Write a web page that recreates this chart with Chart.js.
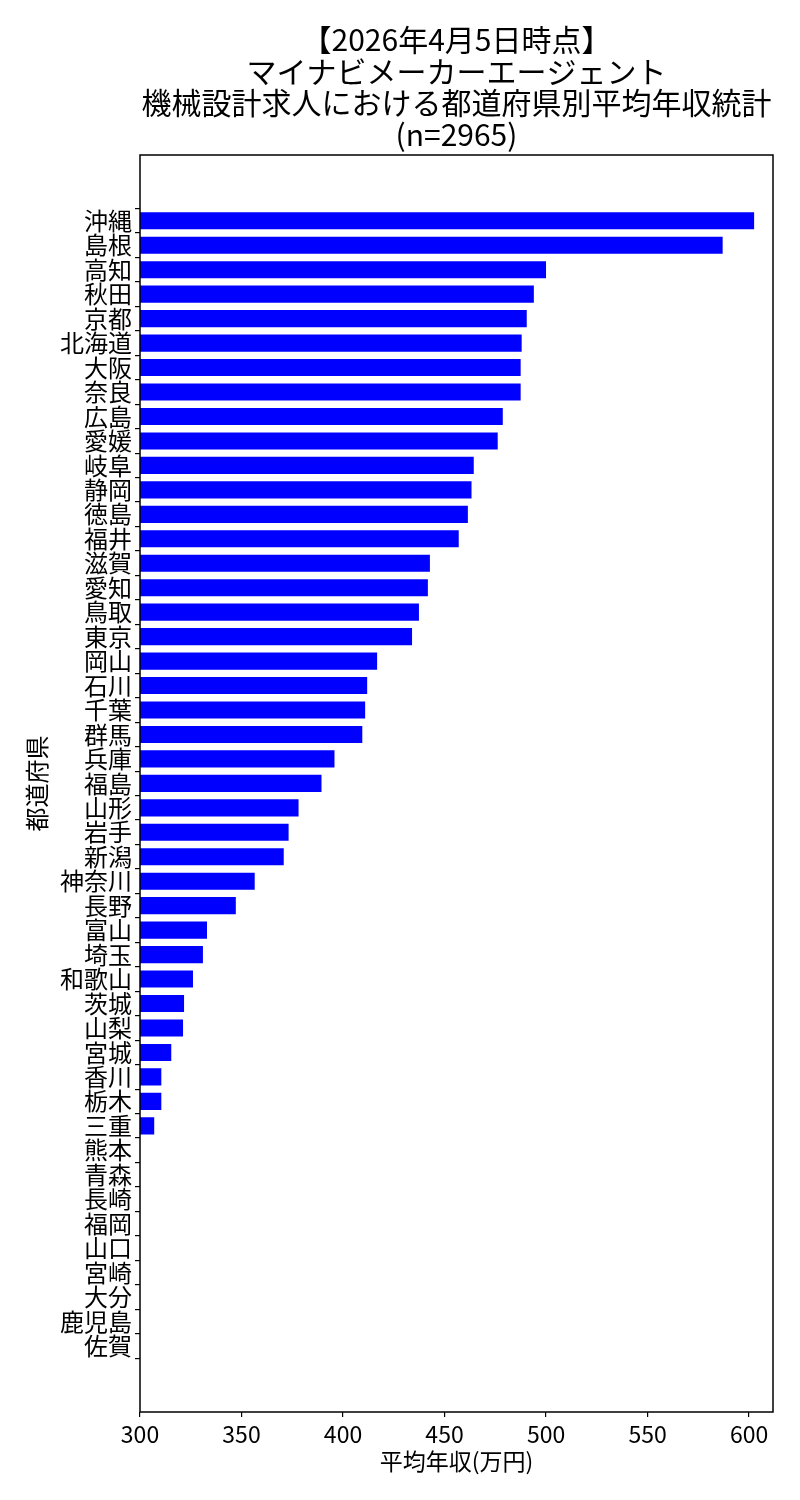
<!DOCTYPE html>
<html>
<head>
<meta charset="utf-8">
<script src="https://cdn.jsdelivr.net/npm/chart.js@4"></script>
<style>
  body { margin: 0; background: #fff; }
  #wrap { width: 800px; height: 1500px; }
</style>
</head>
<body>
<div id="wrap"><canvas id="salaryChart"></canvas></div>
<script>
// data (万円), top to bottom
const prefectures = ["沖縄", "島根", "高知", "秋田", "京都", "北海道", "大阪", "奈良", "広島", "愛媛",
    "岐阜", "静岡", "徳島", "福井", "滋賀", "愛知", "鳥取", "東京", "岡山", "石川",
    "千葉", "群馬", "兵庫", "福島", "山形", "岩手", "新潟", "神奈川", "長野", "富山",
    "埼玉", "和歌山", "茨城", "山梨", "宮城", "香川", "栃木", "三重", "熊本", "青森",
    "長崎", "福岡", "山口", "宮崎", "大分", "鹿児島", "佐賀"];
const avgSalary = [602.5, 587, 500, 494, 490.5, 488, 487.5, 487.5, 478.7, 476.2,
    464.4, 463.3, 461.5, 457, 442.8, 441.8, 437.4, 434, 416.8, 411.9,
    410.9, 409.5, 395.8, 389.4, 378.1, 373.2, 370.8, 356.5, 347.2, 333,
    331, 326.1, 321.7, 321.2, 315.4, 310.5, 310.5, 307, null, null,
    null, null, null, null, null, null, null];
const xTicks = [300, 350, 400, 450, 500, 550, 600];

const titleLines = ["【2026年4月5日時点】", "マイナビメーカーエージェント", "機械設計求人における都道府県別平均年収統計", "(n=2965)"];

const FONT = "'Noto Sans CJK JP', 'Noto Sans', sans-serif";

const points = avgSalary.map((v, i) => ({ x: v, y: i }));

// box around the plot area like matplotlib
const framePlugin = {
    id: "frame",
    afterDraw(chart) {
        const { ctx, chartArea: a } = chart;
        ctx.save();
        ctx.strokeStyle = "#000";
        ctx.lineWidth = 1.5;
        ctx.strokeRect(a.left, a.top, a.right - a.left, a.bottom - a.top);
        ctx.restore();
    }
};

new Chart(document.getElementById("salaryChart"), {
    type: "bar",
    data: {
        datasets: [{
            data: points,
            backgroundColor: "#0000ff",
            borderWidth: 0,
            barPercentage: 0.7,
            categoryPercentage: 1
        }]
    },
    options: {
        indexAxis: "y",
        responsive: true,
        maintainAspectRatio: false,
        animation: false,
        layout: { padding: { top: 0, right: 27, bottom: 0, left: 0 } },
        plugins: {
            legend: { display: false },
            tooltip: { enabled: false },
            title: {
                display: true,
                text: titleLines,
                fullSize: false,
                color: "#000",
                font: { family: FONT, size: 30, weight: "normal", lineHeight: 1.05 },
                padding: { top: 24, bottom: 5 }
            }
        },
        scales: {
            x: {
                type: "linear",
                min: 300,
                max: 611.8,
                afterBuildTicks: (scale) => {
                    scale.ticks = xTicks.map(v => ({ value: v }));
                },
                afterFit: (scale) => { scale.height = 88; },
                ticks: {
                    color: "#000",
                    font: { family: FONT, size: 23 },
                    padding: 3
                },
                grid: { drawOnChartArea: false, drawTicks: true, tickLength: 5, color: "#000", lineWidth: 1.2 },
                border: { display: false },
                title: {
                    display: true,
                    text: "平均年収(万円)",
                    color: "#000",
                    font: { family: FONT, size: 23 },
                    padding: { top: 0, bottom: 25 }
                }
            },
            y: {
                type: "linear",
                reverse: true,
                offset: false,
                min: -2.69,
                max: 48.7,
                afterBuildTicks: (scale) => {
                    scale.ticks = prefectures.map((p, i) => ({ value: i }));
                },
                afterFit: (scale) => { scale.width = 140; },
                ticks: {
                    color: "#000",
                    font: { family: FONT, size: 24 },
                    padding: 3,
                    autoSkip: false,
                    callback: (v) => prefectures[v] || ""
                },
                grid: { drawOnChartArea: false, drawTicks: true, tickLength: 5, color: "#000", lineWidth: 1.2 },
                border: { display: false },
                title: {
                    display: true,
                    text: "都道府県",
                    color: "#000",
                    font: { family: FONT, size: 24 },
                    padding: { top: 22, bottom: 0 }
                }
            }
        }
    },
    plugins: [framePlugin]
});
</script>
</body>
</html>
